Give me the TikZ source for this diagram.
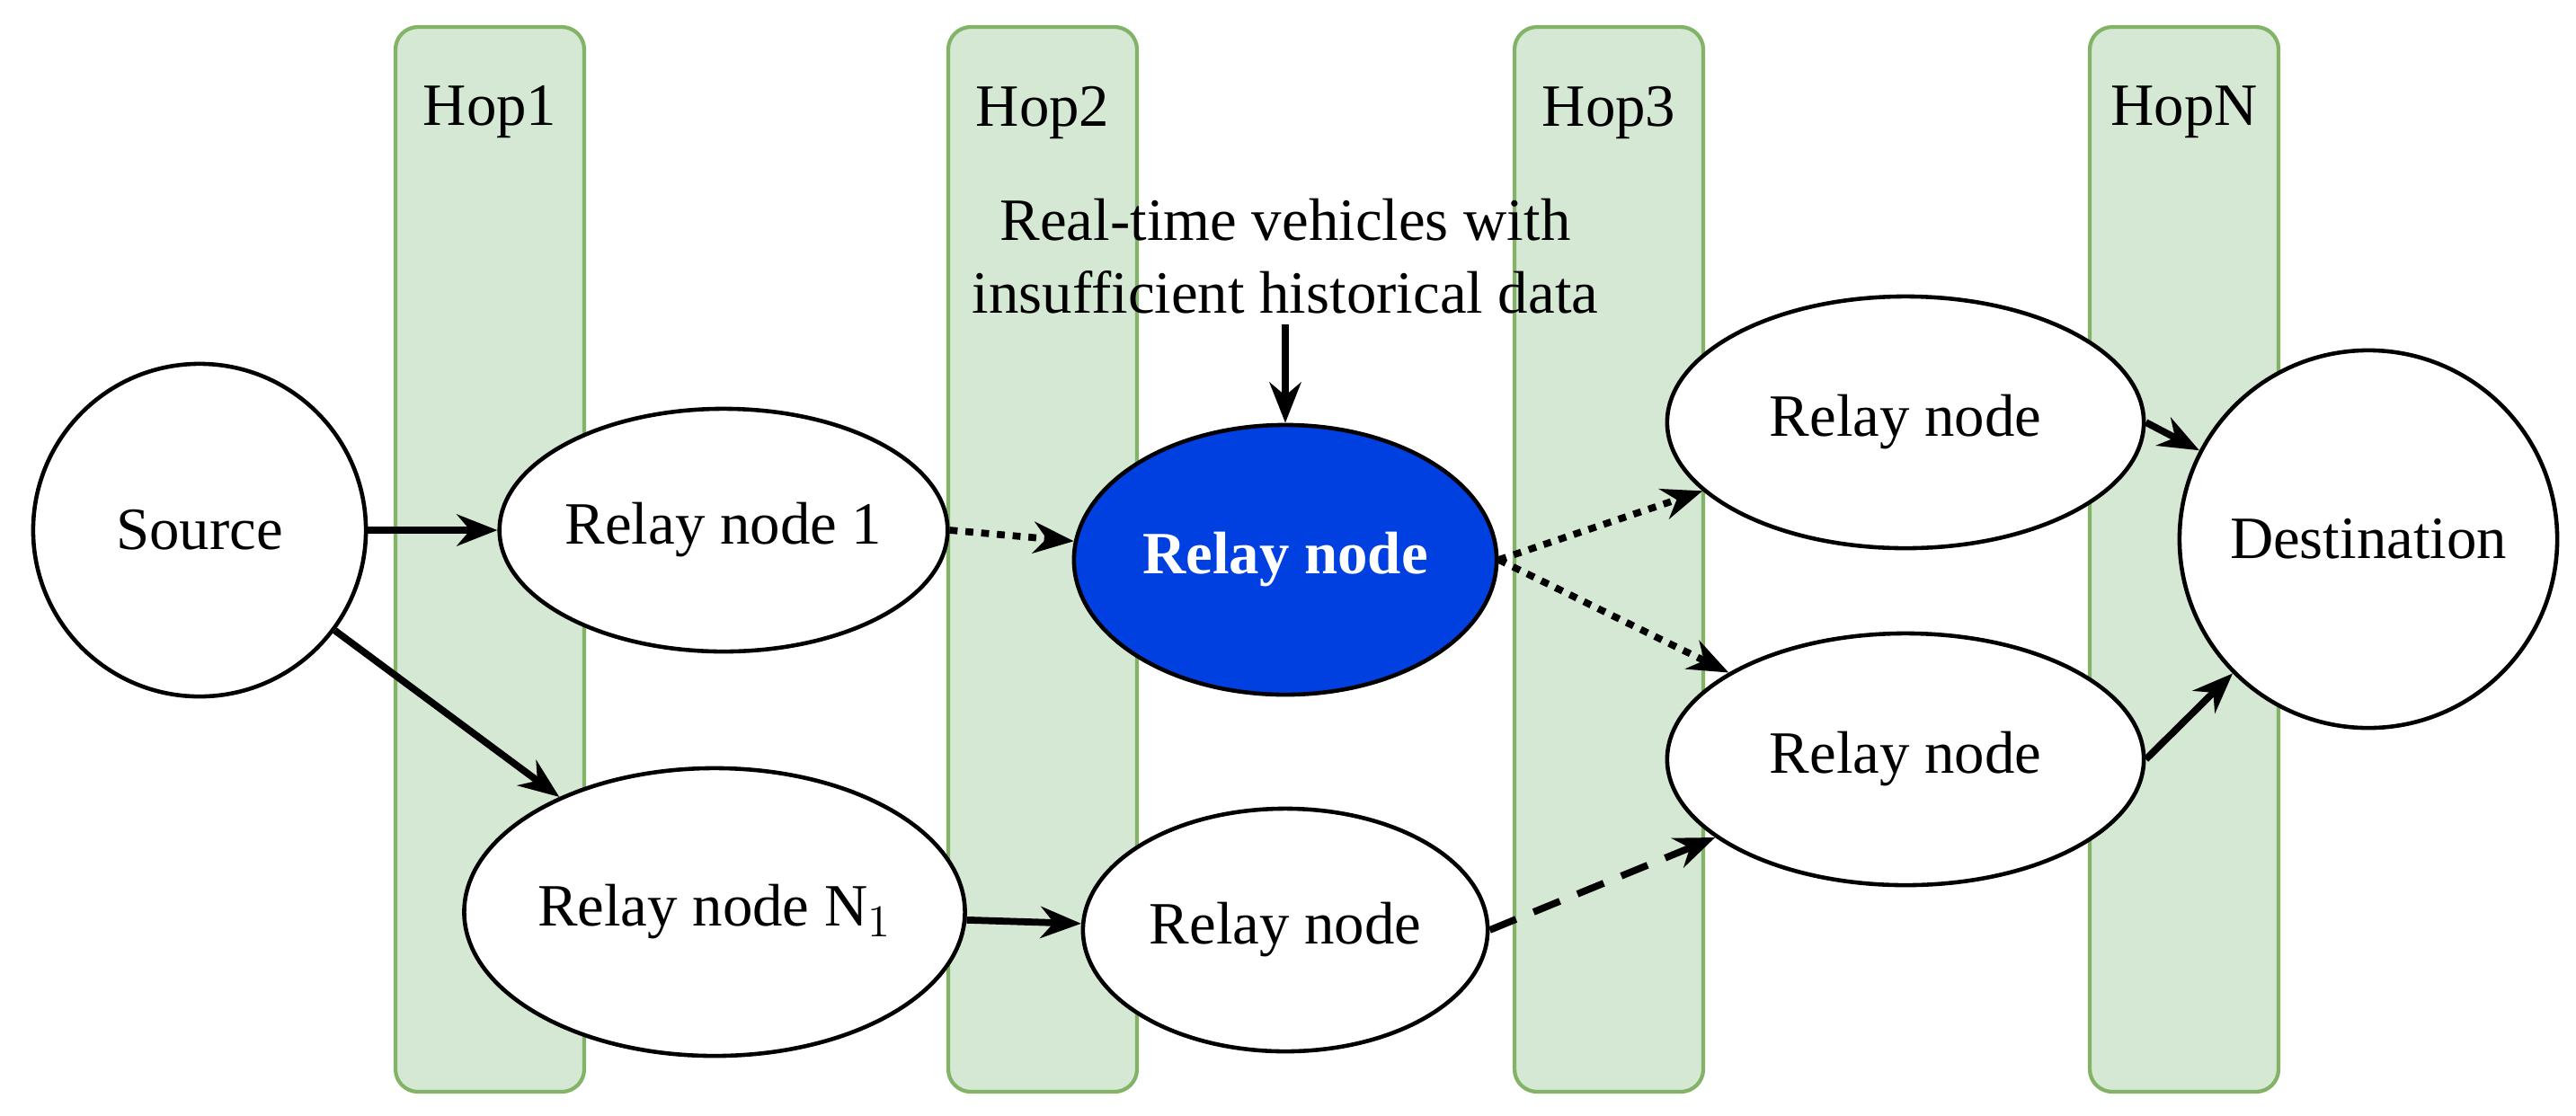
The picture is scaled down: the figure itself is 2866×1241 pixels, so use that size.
\documentclass[tikz,border=0pt]{standalone}
\usepackage{fontspec}
\setmainfont{Liberation Serif}
\usetikzlibrary{arrows.meta,shapes.geometric}
\definecolor{hopfill}{RGB}{213,232,212}
\definecolor{hopline}{RGB}{130,179,102}
\definecolor{relblue}{RGB}{0,64,224}
\begin{document}
\begin{tikzpicture}[x=0.01cm,y=-0.01cm,
  hop/.style={draw=hopline,fill=hopfill,line width=1.2pt,rounded corners=0.25cm},
  hoplbl/.style={font=\fontsize{19}{22}\selectfont},
  nd/.style={draw,line width=1.3pt,fill=white,font=\fontsize{19}{22}\selectfont,inner sep=0pt},
  con/.style={line width=2.2pt,-{Stealth[length=0.45cm,width=0.35cm]}},
  dot/.style={con,dash pattern=on 2.5pt off 2.5pt},
  dsh/.style={con,dash pattern=on 9pt off 6pt}]
\useasboundingbox (0,0) rectangle (2866,1241);
\foreach \x/\n/\l in {440/h1/Hop1,1055/h2/Hop2,1685/h3/Hop3,2325/hn/HopN}{
  \path[hop] (\x,30) rectangle (\x+210,1215);
  \node[hoplbl] (\n) at (\x+105,125) {\l};
}
\node[nd,circle,minimum size=3.7cm] (src) at (222,590) {Source};
\node[nd,ellipse,minimum width=4.7cm,minimum height=2.7cm] (r1) at (805,590) {Relay node 1};
\node[nd,ellipse,fill=relblue,text=white,minimum width=4.7cm,minimum height=3.0cm,font=\fontsize{19}{22}\selectfont\bfseries] (blue) at (1430,623) {Relay node};
\node[nd,ellipse,minimum width=4.7cm,minimum height=3.2cm] (n1) at (795,1015) {Relay node N$_1$};
\node[nd,ellipse,minimum width=4.5cm,minimum height=2.7cm] (bm) at (1430,1035) {Relay node};
\node[nd,ellipse,minimum width=5.3cm,minimum height=2.8cm] (tr) at (2120,470) {Relay node};
\node[nd,ellipse,minimum width=5.3cm,minimum height=2.8cm] (lr) at (2120,845) {Relay node};
\node[nd,circle,minimum size=4.2cm] (dst) at (2635,600) {Destination};
\node[font=\fontsize{19}{23}\selectfont,align=center] (txt) at (1430,285) {Real-time vehicles with\\insufficient historical data};
\draw[con] (txt.south) -- (blue.north);
\draw[con] (src.east) -- (r1.west);
\draw[dot] (r1.east) -- (blue);
\draw[con] (src) -- (n1);
\draw[con] (n1) -- (bm);
\draw[dot] (blue.east) -- (tr);
\draw[dot] (blue.east) -- (lr);
\draw[dsh] (bm.east) -- (lr);
\draw[con] (tr.east) -- (dst);
\draw[con] (lr.east) -- (dst);
\end{tikzpicture}
\end{document}
